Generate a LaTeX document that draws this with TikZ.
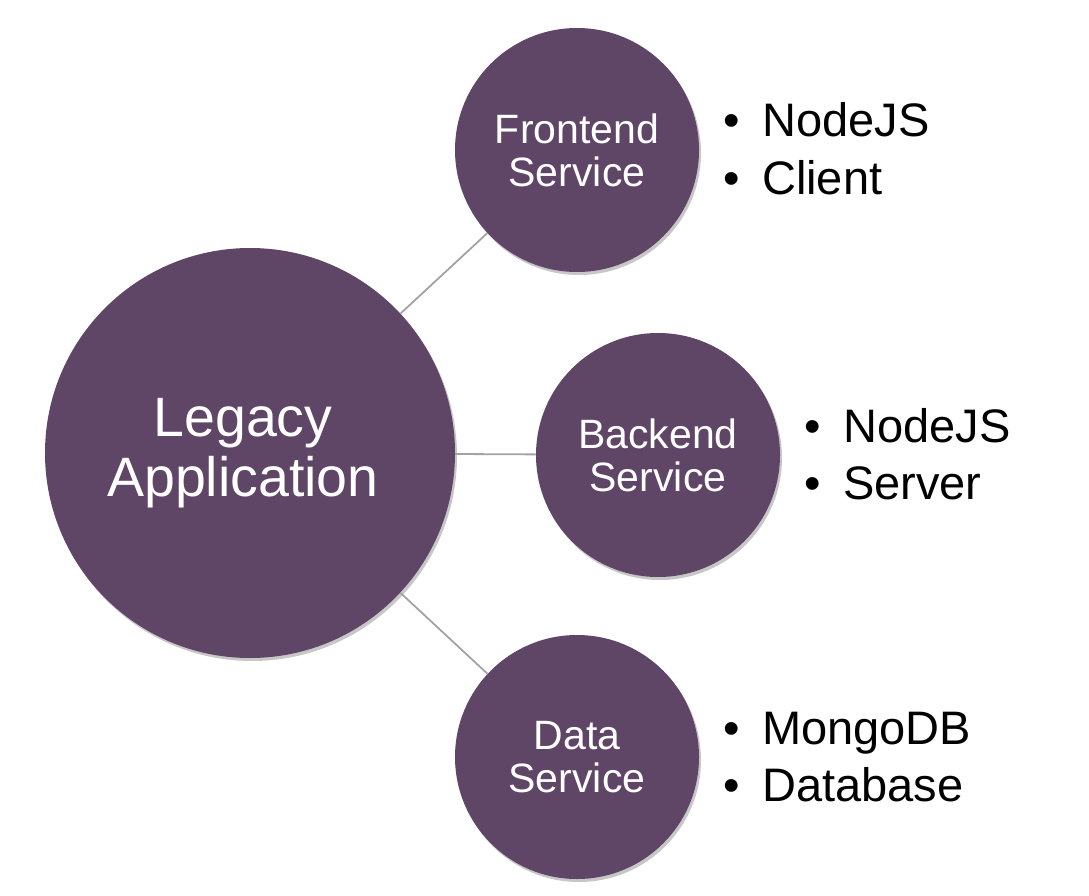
\documentclass[tikz,border=0pt]{standalone}
\usepackage{fontspec}
\setmainfont{Liberation Sans}
\usetikzlibrary{shadows}
\definecolor{plum}{HTML}{5F4566}
\definecolor{linkgray}{HTML}{A3A3A3}
\tikzset{
  bubble/.style={circle, fill=plum, text=white, inner sep=0pt, align=center,
    drop shadow={shadow xshift=2pt, shadow yshift=-3pt, opacity=0.22, fill=black}},
  bigbubble/.style={bubble, minimum size=410pt, font=\fontsize{55.5}{60}\selectfont},
  smallbubble/.style={bubble, minimum size=244pt, font=\fontsize{41}{43}\selectfont},
  item/.style={anchor=base west, inner sep=0pt, font=\fontsize{47}{57}\selectfont},
  link/.style={draw=linkgray, line width=1.8pt}
}
\begin{document}
\begin{tikzpicture}[x=1pt, y=-1pt]
\useasboundingbox (0,0) rectangle (1089,896);
\node[bigbubble] (legacy) at (250,453) {Legacy\hspace*{14pt}\\Application\hspace*{14pt}};
\node[smallbubble] (front) at (577,150) {Frontend\\Service};
\node[smallbubble] (back) at (658,455) {Backend\\Service};
\node[smallbubble] (data) at (577,757) {Data\\Service};
\draw[link] (legacy) -- (front);
\draw[link] (legacy) -- (back);
\draw[link] (legacy) -- (data);
\node[item] (f1) at (723,137) {\makebox[39pt][l]{•}NodeJS};
\node[item] (f2) at (723,194) {\makebox[39pt][l]{•}Client};
\node[item] (b1) at (804,442) {\makebox[39pt][l]{•}NodeJS};
\node[item] (b2) at (804,499) {\makebox[39pt][l]{•}Server};
\node[item] (d1) at (723,744) {\makebox[39pt][l]{•}MongoDB};
\node[item] (d2) at (723,801) {\makebox[39pt][l]{•}Database};
\end{tikzpicture}
\end{document}
